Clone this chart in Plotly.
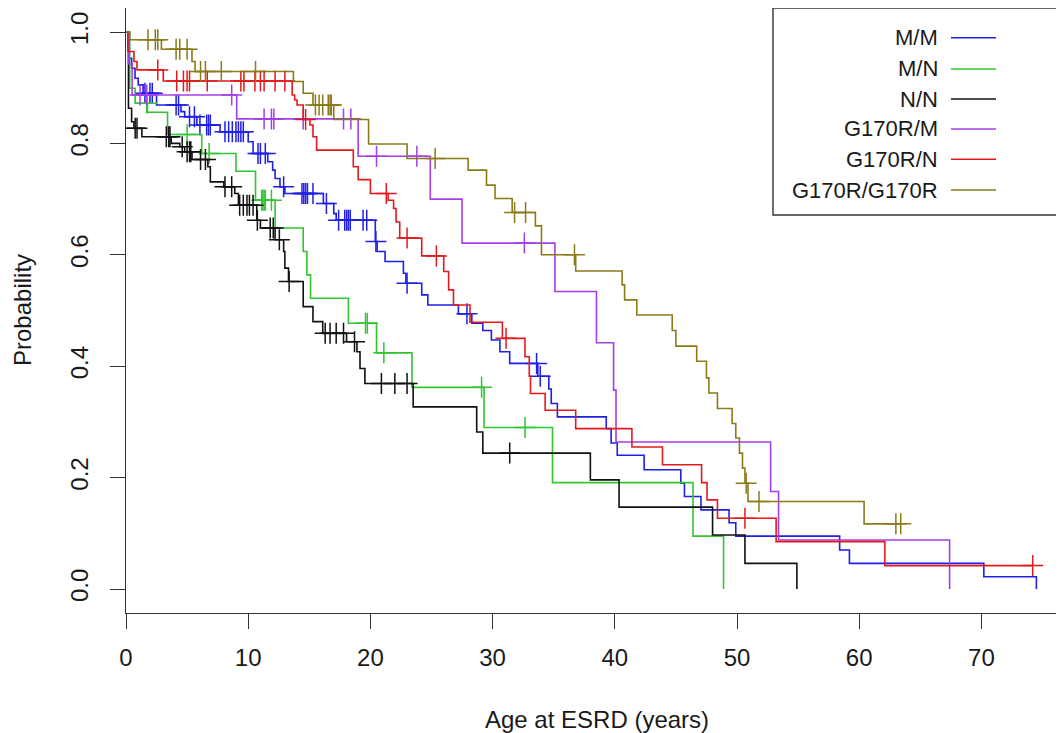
import numpy as np
import plotly.graph_objects as go

# ---------------- data ----------------
# M/M (blue)
mm_t = [0, 0.27, 0.46, 0.74, 1.0, 1.4, 2.5, 4.5, 4.8, 5.8, 7.7, 10.0, 10.4, 11.6, 12.0, 12.2, 12.6, 13.0,
        16.15, 17.0, 17.2, 20.4, 20.55, 21.2, 22.7, 22.9, 24.2, 24.7, 27.2, 28.3, 29.2, 29.9, 30.6, 31.4,
        33.7, 34.6, 34.8, 35.3, 39.3, 39.7, 40.2, 42.4, 45.4, 45.7, 47.05, 49.35, 49.9, 58.4, 59.2, 70.2, 74.5]
mm_s = [1.0, 0.953, 0.935, 0.917, 0.905, 0.89, 0.869, 0.857, 0.848, 0.833, 0.821, 0.803, 0.782, 0.767, 0.752,
        0.737, 0.722, 0.710, 0.692, 0.674, 0.662, 0.624, 0.606, 0.588, 0.567, 0.549, 0.528, 0.510, 0.494,
        0.477, 0.464, 0.447, 0.426, 0.405, 0.382, 0.359, 0.333, 0.309, 0.288, 0.262, 0.240, 0.214, 0.190,
        0.166, 0.142, 0.119, 0.095, 0.070, 0.046, 0.022, 0.0]
mm_c = [1.55, 1.96, 2.15, 4.1, 4.3, 5.2, 5.6, 6.05, 6.6, 6.75, 6.9, 8.1, 8.4, 8.7, 9.0, 9.2, 9.4, 9.6,
        10.8, 11.0, 11.4, 12.9, 14.4, 14.55, 14.7, 14.85, 15.3, 16.4, 17.4, 17.9, 18.06, 18.2, 18.35,
        19.4, 19.7, 20.45, 23.0, 27.9, 33.6, 33.9]
mm_end = 74.5

# M/N (green)
mn_t = [0, 0.3, 0.75, 1.75, 3.4, 6.2, 9.0, 10.6, 12.2, 14.5, 14.8, 15.1, 18.2, 20.5, 23.4, 29.3, 34.9, 46.4, 48.9]
mn_s = [1.0, 0.899, 0.872, 0.856, 0.816, 0.782, 0.750, 0.698, 0.648, 0.606, 0.564, 0.522, 0.477, 0.424,
        0.362, 0.290, 0.191, 0.095, 0.0]
mn_c = [1.7, 5.0, 6.8, 11.1, 11.2, 11.3, 11.4, 11.9, 19.6, 19.75, 21.1, 29.1, 32.65]
mn_end = 48.9

# N/N (black)
nn_t = [0, 0.2, 0.46, 0.65, 1.3, 3.7, 4.4, 4.8, 5.4, 6.7, 6.9, 8.0, 8.9, 9.2, 10.7, 11.0, 12.2, 12.9, 13.0,
        13.3, 14.5, 15.3, 16.1, 18.05, 18.9, 19.15, 19.55, 23.5, 28.7, 29.2, 38.0, 40.35, 48.0, 50.65, 54.9]
nn_s = [1.0, 0.863, 0.839, 0.827, 0.812, 0.800, 0.794, 0.785, 0.771, 0.758, 0.731, 0.722, 0.710, 0.689,
        0.662, 0.648, 0.627, 0.606, 0.576, 0.552, 0.507, 0.480, 0.459, 0.444, 0.426, 0.396, 0.369, 0.327,
        0.282, 0.244, 0.196, 0.147, 0.097, 0.046, 0.0]
nn_c = [0.75, 0.9, 3.3, 3.5, 3.6, 4.6, 5.0, 5.2, 5.3, 6.1, 6.5, 8.1, 8.65, 9.3, 9.6, 9.9, 10.1, 10.4,
        10.75, 11.8, 12.05, 12.55, 13.35, 16.3, 16.7, 17.2, 17.8, 18.7, 20.9, 22.0, 23.0, 31.4]
nn_end = 54.9

# G170R/M (purple)
gm_t = [0, 0.2, 0.5, 9.06, 19.0, 24.9, 27.5, 35.1, 38.5, 39.9, 40.1, 52.75, 53.4, 67.4]
gm_s = [1.0, 0.943, 0.887, 0.844, 0.777, 0.700, 0.621, 0.534, 0.442, 0.357, 0.264, 0.175, 0.088, 0.0]
gm_c = [1.15, 1.7, 8.65, 11.3, 11.9, 12.1, 14.5, 17.8, 18.4, 20.5, 23.8, 32.6]
gm_end = 67.4

# G170R/N (red)
gn_t = [0, 0.15, 0.65, 0.9, 3.05, 13.6, 13.8, 14.0, 14.5, 15.05, 15.3, 15.6, 18.6, 19.0, 20.0, 21.45, 21.9,
        22.1, 22.4, 24.2, 26.0, 26.4, 26.8, 28.15, 30.8, 32.65, 33.0, 33.1, 34.3, 36.8, 41.4, 43.9, 47.1,
        47.55, 48.4, 53.2, 62.1]
gn_s = [1.0, 0.965, 0.947, 0.932, 0.912, 0.887, 0.878, 0.869, 0.843, 0.833, 0.812, 0.788, 0.758, 0.735,
        0.710, 0.698, 0.683, 0.659, 0.630, 0.598, 0.570, 0.537, 0.510, 0.479, 0.450, 0.417, 0.382, 0.351,
        0.321, 0.288, 0.255, 0.223, 0.191, 0.160, 0.127, 0.085, 0.042]
gn_c = [2.6, 4.15, 4.7, 5.0, 5.2, 6.65, 9.4, 9.65, 10.55, 11.0, 11.3, 12.2, 13.0, 14.7, 21.3, 23.0, 25.4,
        31.1, 50.65, 74.2]
gn_end = 74.2

# G170R/G170R (gold)
gg_t = [0, 0.3, 2.9, 5.4, 5.65, 13.7, 14.5, 15.3, 17.0, 19.85, 23.0, 28.0, 29.5, 30.2, 31.6, 33.5, 34.0,
        36.8, 40.6, 40.8, 41.8, 44.7, 45.0, 46.7, 47.5, 47.7, 48.4, 49.6, 49.9, 50.2, 50.45, 50.65, 50.9, 60.4]
gg_s = [1.0, 0.986, 0.969, 0.947, 0.929, 0.911, 0.890, 0.869, 0.843, 0.799, 0.773, 0.752, 0.725, 0.701,
        0.676, 0.652, 0.600, 0.571, 0.546, 0.519, 0.492, 0.464, 0.436, 0.409, 0.379, 0.352, 0.324, 0.297,
        0.271, 0.244, 0.217, 0.190, 0.157, 0.117]
gg_c = [1.8, 2.4, 2.6, 4.1, 4.4, 5.0, 6.1, 6.5, 7.8, 10.6, 15.5, 15.8, 16.1, 16.55, 16.7, 16.8, 25.3,
        31.8, 32.7, 36.7, 50.75, 51.8, 63.0, 63.4]
gg_end = 63.4

group_names = ["M/M", "M/N", "N/N", "G170R/M", "G170R/N", "G170R/G170R"]
group_colors = ["#1f1fe6", "#33c433", "#111111", "#a43ee8", "#e31a1c", "#8b7a1a"]
groups = [(mm_t, mm_s, mm_c, mm_end), (mn_t, mn_s, mn_c, mn_end), (nn_t, nn_s, nn_c, nn_end),
          (gm_t, gm_s, gm_c, gm_end), (gn_t, gn_s, gn_c, gn_end), (gg_t, gg_s, gg_c, gg_end)]

x_ticks = [0, 10, 20, 30, 40, 50, 60, 70]
y_ticks = [0.0, 0.2, 0.4, 0.6, 0.8, 1.0]
y_tick_text = ["0.0", "0.2", "0.4", "0.6", "0.8", "1.0"]

# ---------------- figure ----------------
OFF = 8                      # page body margin in the browser
W, H = 1064 - OFF, 733 - OFF
PLOT_LEFT, PLOT_TOP, PLOT_BOTTOM = 126, 8, 613    # page pixels
L = PLOT_LEFT - OFF
T = PLOT_TOP - OFF
B = H - (PLOT_BOTTOM - OFF)
R = 0
FONT = "Liberation Sans, Arial, sans-serif"
TXT = "#1a1a1a"

fig = go.Figure()
for (t, s, c, end), name, col in zip(groups, group_names, group_colors):
    xs = list(t)
    ys = list(s)
    if end > xs[-1]:
        xs.append(end)
        ys.append(ys[-1])
    fig.add_trace(go.Scatter(x=xs, y=ys, mode="lines", line=dict(color=col, width=1.6, shape="hv"),
                             name=name, showlegend=False, hoverinfo="skip"))
    ta = np.array(t)
    sa = np.array(s)
    idx = np.searchsorted(ta, np.array(c), side="right") - 1
    cy = sa[idx]
    fig.add_trace(go.Scatter(x=c, y=cy, mode="markers",
                             marker=dict(symbol="cross-thin", size=15, line=dict(color=col, width=1.5)),
                             showlegend=False, hoverinfo="skip"))

px_per_year = 12.22
plot_w = W - L - R
plot_h = H - T - B
x_max = plot_w / px_per_year
Y0_PAGE = 589.0
y_unit = 557.0
y_lo = -(PLOT_BOTTOM - Y0_PAGE) / y_unit
y_hi = (Y0_PAGE - PLOT_TOP) / y_unit

axis_common = dict(showgrid=False, zeroline=False, showline=True, linecolor="#333333", linewidth=1.3,
                   ticks="outside", ticklen=15, tickwidth=1.3, tickcolor="#333333",
                   tickfont=dict(family=FONT, size=24, color=TXT))

fig.update_layout(
    width=W, height=H, margin=dict(l=L, r=R, t=T, b=B, pad=0),
    paper_bgcolor="white", plot_bgcolor="white",
    xaxis=dict(range=[0, x_max], tickvals=x_ticks, mirror=True, ticklabelstandoff=8, **axis_common),
    yaxis=dict(range=[y_lo, y_hi], tickvals=y_ticks, ticktext=y_tick_text, tickangle=-90, mirror=False,
               ticklabelstandoff=12, **axis_common),
)

def px2paper_x(px):          # page pixel -> paper
    return (px - PLOT_LEFT) / plot_w

def px2paper_y(py):
    return (PLOT_BOTTOM - py) / plot_h

annotations = [
    dict(text="Age at ESRD (years)", x=px2paper_x(597), y=px2paper_y(719), xref="paper", yref="paper",
         showarrow=False, xanchor="center", yanchor="middle", font=dict(family=FONT, size=24, color=TXT)),
    dict(text="Probability", x=px2paper_x(22), y=px2paper_y(310), xref="paper", yref="paper",
         showarrow=False, xanchor="center", yanchor="middle", textangle=-90,
         font=dict(family=FONT, size=24, color=TXT)),
]

shapes = [dict(type="rect", xref="paper", yref="paper", x0=px2paper_x(773), x1=px2paper_x(1080),
               y0=px2paper_y(215), y1=px2paper_y(8), line=dict(color="#333333", width=1.4),
               fillcolor="white", layer="above")]

row_y = [37.7, 69, 99, 129, 159.3, 190]
for name, col, ry in zip(group_names, group_colors, row_y):
    annotations.append(dict(text=name, x=px2paper_x(940), y=px2paper_y(ry), xref="paper", yref="paper",
                            showarrow=False, xanchor="right", yanchor="middle",
                            font=dict(family=FONT, size=22, color=TXT)))
    shapes.append(dict(type="line", xref="paper", yref="paper", x0=px2paper_x(951), x1=px2paper_x(996),
                       y0=px2paper_y(ry), y1=px2paper_y(ry), line=dict(color=col, width=1.6), layer="above"))

fig.update_layout(annotations=annotations, shapes=shapes)
fig.write_html("out.html")
